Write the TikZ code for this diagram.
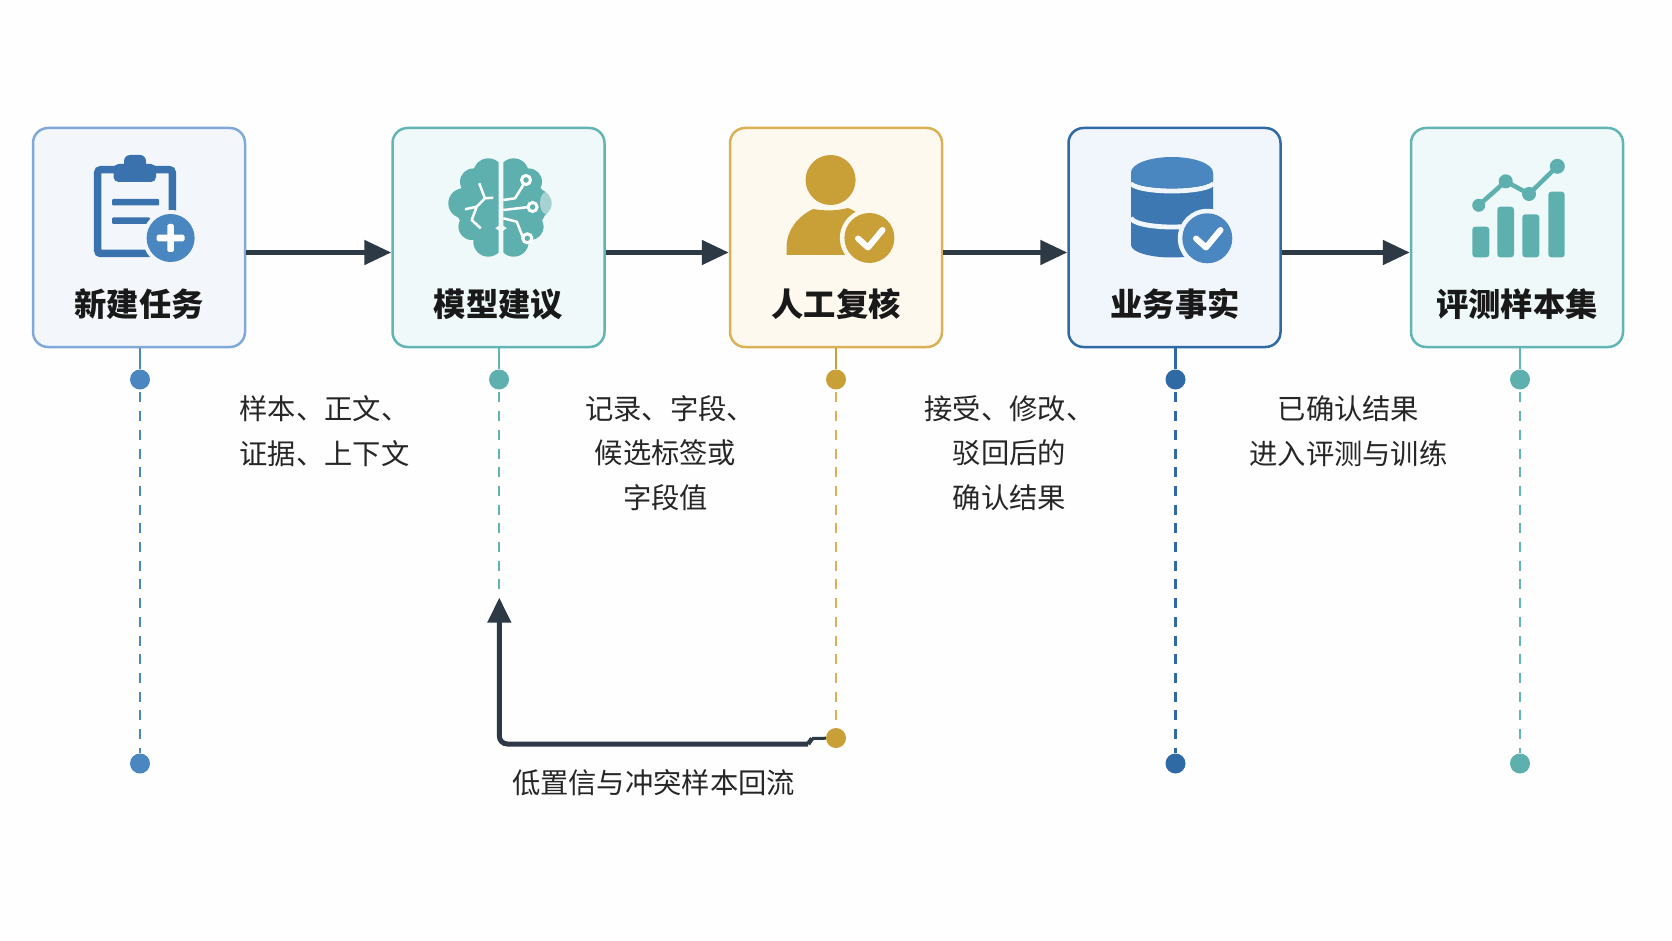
\documentclass[tikz,border=0pt]{standalone}
\usepackage{fontspec}
\usepackage{xcolor}
\usepackage{tikz}
\usetikzlibrary{arrows.meta,positioning}
\setmainfont{Noto Sans CJK SC}
\definecolor{inkdark}{HTML}{2D3A45}
\definecolor{newline}{HTML}{7FA9DA}
\definecolor{newfill}{HTML}{F3F7FC}
\definecolor{newdot}{HTML}{4A86C0}
\definecolor{newicon}{HTML}{3A72AD}
\definecolor{tealline}{HTML}{62B5B5}
\definecolor{tealfill}{HTML}{F0F9FA}
\definecolor{tealicon}{HTML}{5DB0AE}
\definecolor{goldline}{HTML}{DBB156}
\definecolor{goldfill}{HTML}{FEF9EF}
\definecolor{goldicon}{HTML}{C99F38}
\definecolor{bizline}{HTML}{2F6AA5}
\definecolor{bizfill}{HTML}{F1F6FC}
\definecolor{bizicon}{HTML}{3D78B2}
\definecolor{bizlight}{HTML}{4A86BF}

\begin{document}
\begin{tikzpicture}[
    x=1pt, y=-1pt,
    stagebox/.style={rectangle, rounded corners=15pt, line width=2.5pt, minimum width=212pt, minimum height=219pt, inner sep=0},
    stagetitle/.style={font=\fontsize{32.3}{36}\selectfont\bfseries, text=black!90, inner sep=0},
    notelabel/.style={font=\fontsize{28.3}{44.8}\selectfont, text=black!85, align=center, inner sep=0},
    pin/.style={circle, minimum size=20pt, inner sep=0},
    stem/.style={line width=2.7pt},
    drop/.style={line width=2.7pt, dash pattern=on 10pt off 8.7pt, dash phase=16pt},
    flow/.style={line width=5pt, draw=inkdark, -{Triangle[length=27pt,width=24pt]}},
    tickmark/.style={draw=white, line width=6pt, line cap=round, line join=round}]
\useasboundingbox (0,0) rectangle (1672,941);
\fill[white!99.6!black] (0,0) rectangle (1672,941);

% stages
\node (newtask) [stagebox, draw=newline, fill=newfill] at (139,237.5) {};
\node (model) [stagebox, draw=tealline, fill=tealfill] at (498.5,237.5) {};
\node (review) [stagebox, draw=goldline, fill=goldfill] at (836,237.5) {};
\node (facts) [stagebox, draw=bizline, fill=bizfill] at (1174.5,237.5) {};
\node (evalset) [stagebox, draw=tealline, fill=tealfill] at (1517,237.5) {};

\node (newtasktitle) [stagetitle] at (139,304.5) {新建任务};
\node (modeltitle) [stagetitle] at (498.5,304.5) {模型建议};
\node (reviewtitle) [stagetitle] at (836,304.5) {人工复核};
\node (factstitle) [stagetitle] at (1175,304.5) {业务事实};
\node (evalsettitle) [stagetitle] at (1517,304.5) {评测样本集};

% clipboard
\draw[newicon, line width=7.5pt, rounded corners=3pt] (97.7,169.7) rectangle (172.3,253.5);
\fill[newicon, rounded corners=5pt] (113.5,164) rectangle (156,182);
\fill[newicon, rounded corners=6pt] (124,155) rectangle (146,172);
\fill[newicon, rounded corners=1pt] (112,199) rectangle (159,205.5);
\fill[newicon, rounded corners=1pt] (112,217.5) rectangle (150,224);
\fill[newfill] (170.6,238) circle (28);
\fill[newdot] (170.6,238) circle (24);
\fill[white, rounded corners=1.5pt] (156.6,234.7) rectangle (184.6,241.3);
\fill[white, rounded corners=1.5pt] (167.3,224) rectangle (173.9,252);

% brain
\begin{scope}
\clip (440,150) rectangle (498.7,265);
\foreach \cx/\cy/\cr in {488.3/173.3/15, 473.3/181.7/13.3, 463.3/203.3/15, 471.7/226.7/13.3, 488.3/241.7/15, 481.7/205/26.7}
    \fill[tealicon] (\cx,\cy) circle (\cr);
\end{scope}
\begin{scope}
\clip (503.3,150) rectangle (560,265);
\foreach \cx/\cy/\cr in {513.7/173.3/15, 528.7/181.7/13.3, 537.7/203.3/14, 530.3/226.7/13.3, 513.7/241.7/15, 520.3/205/26.7}
    \fill[tealicon] (\cx,\cy) circle (\cr);
\end{scope}
\fill[white, opacity=0.45] (546,203) ellipse (6 and 11);
\draw[white, line width=2.5pt, line join=round] (479.3,183.3) -- (481.7,190) -- (485,198.3) -- (493.3,197.7) (485,198.3) -- (476.7,206.7) -- (465,209.3) (476.7,206.7) -- (471.7,220) -- (480.7,228.3);
\draw[white, line width=2.5pt, line join=round] (503.3,200) -- (515,198.3) -- (523.3,185) (503.3,210) -- (531.7,206.7) (503.3,218.3) -- (516.7,221.7) -- (523.3,238.3);
\foreach \cx/\cy in {526/180, 532.6/207, 527.3/238.3}
    \draw[white, line width=3pt, fill=tealicon] (\cx,\cy) circle (4.5);

% person
\fill[goldicon] (830.6,180) circle (25);
\fill[goldicon] (786.5,255) -- (786.5,247) .. controls (787,230) and (797,217) .. (813,209) .. controls (825,211) and (836,211) .. (848,208) .. controls (860,212) and (868,222) .. (870,255) -- cycle;
\fill[goldfill] (869.4,238) circle (29.5);
\fill[goldicon] (869.4,238) circle (25);
\draw[tickmark] (858,238.5) -- (868,247.5) -- (882.5,230);

% database
\fill[bizicon] (1131,174) -- (1131,245) arc[start angle=180, end angle=0, x radius=41, y radius=12.5] -- (1213,174) -- cycle;
\draw[bizfill, line width=4.8pt] (1131,182.5) arc[start angle=180, end angle=0, x radius=41, y radius=8.5];
\draw[bizfill, line width=4.8pt] (1131,217.5) arc[start angle=180, end angle=0, x radius=41, y radius=9.5];
\fill[bizlight] (1131,172.5) arc[start angle=180, end angle=360, x radius=41, y radius=15.5] -- (1213,180) arc[start angle=0, end angle=180, x radius=41, y radius=8] -- cycle;
\fill[bizfill] (1207.3,238.3) circle (29.5);
\fill[bizlight] (1207.3,238.3) circle (25);
\draw[tickmark] (1196,238.5) -- (1206,247.5) -- (1220.5,230);

% chart
\fill[tealicon, rounded corners=3pt] (1472.3,226.7) rectangle (1489.3,257.3);
\fill[tealicon, rounded corners=3pt] (1497.3,206.7) rectangle (1514,257.3);
\fill[tealicon, rounded corners=3pt] (1522.3,214.3) rectangle (1539.3,257.3);
\fill[tealicon, rounded corners=3pt] (1548.3,191.7) rectangle (1564.7,257.3);
\draw[tealicon, line width=4.5pt] (1478.7,205.3) -- (1505.7,181.3) -- (1529,194) -- (1557.3,166.3);
\fill[tealicon] (1478.7,205.3) circle (6.5) (1505.7,181.3) circle (7) (1529,194) circle (7) (1557.3,166.3) circle (7.5);

% pins
\node (newtaskpin) [pin, fill=newdot] at (140,379.5) {};
\node (newtaskend) [pin, fill=newdot] at (140,763.5) {};
\node (modelpin) [pin, fill=tealicon] at (499,379.5) {};
\coordinate (modelend) at (499,593);
\node (reviewpin) [pin, fill=goldicon] at (836,379.5) {};
\node (reviewend) [pin, fill=goldicon] at (836,738) {};
\node (factspin) [pin, fill=bizline] at (1175.5,379.5) {};
\node (factsend) [pin, fill=bizline] at (1175.5,763.5) {};
\node (evalsetpin) [pin, fill=tealicon] at (1520,379.5) {};
\node (evalsetend) [pin, fill=tealicon] at (1520,763.5) {};

\path[draw=newdot, stem] (newtask.south -| newtaskpin) -- (newtaskpin);
\path[draw=tealline, stem] (model.south -| modelpin) -- (modelpin);
\path[draw=goldicon, stem] (review.south -| reviewpin) -- (reviewpin);
\path[draw=bizline, stem] (facts.south -| factspin) -- (factspin);
\path[draw=tealline, stem] (evalset.south -| evalsetpin) -- (evalsetpin);

\path[draw=newdot, drop] (newtaskpin) -- (newtaskend);
\path[draw=tealline, drop] (modelpin) -- (modelend);
\path[draw=goldline, drop] (reviewpin) -- (reviewend);
\path[draw=bizline, drop] (factspin) -- (factsend);
\path[draw=tealline, drop] (evalsetpin) -- (evalsetend);

% flow
\draw[flow] ([yshift=-15pt]newtask.east) -- ([yshift=-15pt]model.west);
\draw[flow] ([yshift=-15pt]model.east) -- ([yshift=-15pt]review.west);
\draw[flow] ([yshift=-15pt]review.east) -- ([yshift=-15pt]facts.west);
\draw[flow] ([yshift=-15pt]facts.east) -- ([yshift=-15pt]evalset.west);

% return path
\coordinate (backtip) at (499.3,597.7);
\coordinate (backcorner) at (499.3,744);
\coordinate (backstep) at (808,744);
\coordinate (backjog) at (812,738.5);
\draw[flow, -{Triangle[length=25pt,width=23pt]}, rounded corners=8pt] (backstep) -- (backcorner) -- (backtip);
\draw[inkdark, line width=4.5pt] (backstep) -- (backjog);
\draw[inkdark, line width=3pt] (backjog) -- (reviewend);

% labels
\node (inputnote) [notelabel] at (324.5,431) {样本、正文、\\证据、上下文};
\node (modelnote) [notelabel] at (665.5,453) {\hspace*{9pt}记录、字段、\\候选标签或\\字段值};
\node (reviewnote) [notelabel] at (1009.5,453) {接受、修改、\\驳回后的\\确认结果};
\node (factsnote) [notelabel] at (1348.5,431) {已确认结果\\进入评测与训练};
\node (backnote) [notelabel] at (653.5,783) {低置信与冲突样本回流};

\end{tikzpicture}
\end{document}
